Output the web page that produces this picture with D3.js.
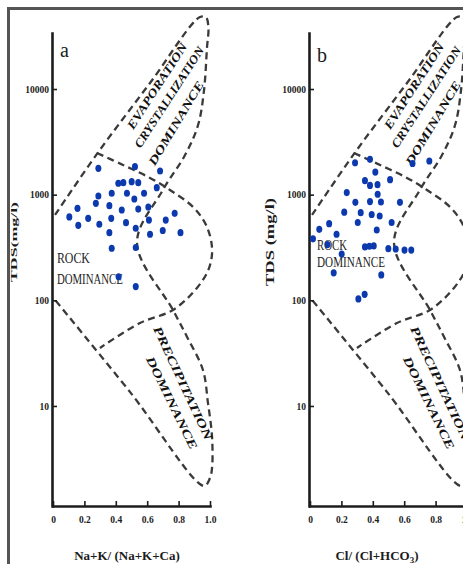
<!DOCTYPE html>
<html lang="en">
<head>
<meta charset="utf-8">
<title>Gibbs diagrams</title>
<script src="https://cdn.jsdelivr.net/npm/d3@7"></script>
<style>
  body { margin: 0; background: #fff; }
  svg text { font-family: "Liberation Serif", "DejaVu Serif", serif; fill: #1c1c1c; }
  .tick text { font-weight: bold; font-size: 9.5px; }
  .boundary { fill: none; stroke: #3a3a3a; stroke-width: 2.3; stroke-dasharray: 7,4.5; }
  .region { font-weight: bold; font-style: italic; font-size: 12px; fill: #111; }
</style>
</head>
<body>
<svg id="chart" width="463" height="564"></svg>
<script>
  // panel a : Na+K/(Na+K+Ca) against TDS
  const cationRatio = [0.289, 0.522, 0.682, 0.416, 0.448, 0.501, 0.543, 0.661, 0.289, 0.374,
                       0.471, 0.580, 0.518, 0.273, 0.359, 0.607, 0.156, 0.438, 0.543, 0.104,
                       0.224, 0.371, 0.611, 0.718, 0.775, 0.161, 0.295, 0.465, 0.527, 0.359,
                       0.618, 0.699, 0.812, 0.374, 0.527, 0.418, 0.527];
  const cationTDS = [1774, 1841, 1675, 1282, 1298, 1328, 1298, 1164, 971, 1031,
                     1031, 1031, 910, 828, 787, 764, 743, 716, 731, 615,
                     597, 597, 575, 575, 666, 513, 525, 543, 481, 437,
                     422, 458, 437, 311, 316, 167, 135];

  // panel b : Cl/(Cl+HCO3) against TDS
  const anionRatio = [0.287, 0.382, 0.653, 0.760, 0.416, 0.350, 0.510, 0.382, 0.430, 0.234,
                      0.431, 0.289, 0.382, 0.452, 0.573, 0.218, 0.323, 0.393, 0.444, 0.304,
                      0.520, 0.122, 0.425, 0.059, 0.169, 0.019, 0.111, 0.202, 0.350, 0.378,
                      0.406, 0.499, 0.546, 0.602, 0.645, 0.151, 0.454, 0.308, 0.348];
  const anionTDS = [2005, 2160, 1972, 2083, 1636, 1355, 1386, 1222, 1242, 1047,
                    1009, 847, 861, 852, 847, 683, 675, 649, 628, 545,
                    545, 531, 463, 470, 422, 382, 337, 274, 320, 325,
                    327, 308, 306, 299, 299, 182, 174, 103, 114];

  // Gibbs boundary: evaporation lobe, inner edge, precipitation lobe
  const outerRatio = [0.013, 0.280, 0.618, 0.936, 0.975, 0.990, 0.981, 0.962, 0.924, 0.841,
                      0.700, 0.535, 0.764, 0.854, 0.955, 0.987, 1.013, 1.013, 1.000, 0.962,
                      0.490, 0.013];
  const outerTDS = [643, 2430, 11400, 48000, 47500, 37800, 24900, 9770, 4560, 2370,
                    1107, 349, 81, 45, 21.9, 10.7, 5.1, 2.59, 2.08, 1.75,
                    13.6, 101];
  // rock dominance bulge
  const rockRatio = [0.280, 0.446, 0.618, 0.745, 0.892, 0.975, 1.013, 0.994, 0.917, 0.764, 0.554, 0.299];
  const rockTDS = [2480, 1910, 1440, 1107, 764, 516, 313, 202, 131, 81, 61, 35.4];

  const xTicks = [0, 0.2, 0.4, 0.6, 0.8, 1.0];
  const yTicks = [10, 100, 1000, 10000];

  const svg = d3.select("#chart");

  // frame round the figure (right and bottom edges are cut off)
  svg.append("rect")
    .attr("x", 8.5).attr("y", 8.5)
    .attr("width", 520).attr("height", 620)
    .attr("fill", "none")
    .attr("stroke", "#555")
    .attr("stroke-width", 3);

  function drawPanel(p) {
    const x = d3.scaleLinear().domain([0, 1]).range([p.left, p.left + 157]);
    const y = d3.scaleLog().domain([1.13, 33900]).range([506, 33]);
    const g = svg.append("g");

    const line = d3.line()
      .x(function(d) { return x(d[0]); })
      .y(function(d) { return y(d[1]); })
      .curve(d3.curveCatmullRom.alpha(0.5));

    g.append("path")
      .attr("class", "boundary")
      .attr("d", line(d3.zip(outerRatio, outerTDS)));
    g.append("path")
      .attr("class", "boundary")
      .attr("d", line(d3.zip(rockRatio, rockTDS)));

    // axes, ticks pointing inwards
    const yAxis = d3.axisLeft(y)
      .tickValues(yTicks)
      .tickFormat(d3.format("d"))
      .tickSizeInner(-5).tickSizeOuter(0).tickPadding(3);
    const xAxis = d3.axisBottom(x)
      .tickValues(xTicks)
      .tickFormat(function(d) { return d === 0 ? "0" : d.toFixed(1); })
      .tickSizeInner(-5).tickSizeOuter(0).tickPadding(10);

    const ya = g.append("g").attr("transform", "translate(" + (p.left - 1) + ",0)").call(yAxis);
    const xa = g.append("g").attr("transform", "translate(0,506)").call(xAxis);
    [ya, xa].forEach(function(a) {
      a.select(".domain").attr("stroke", "#1c1c1c").attr("stroke-width", 2.6).attr("stroke-linecap", "square");
      a.selectAll(".tick line").attr("stroke", "#1c1c1c").attr("stroke-width", 1.6);
      a.selectAll(".tick text").attr("fill", "#1c1c1c");
    });

    // region names
    function region(txt, rx, rt, angle, len) {
      g.append("text")
        .attr("class", "region")
        .attr("text-anchor", "middle")
        .attr("dy", "0.35em")
        .attr("textLength", len)
        .attr("lengthAdjust", "spacingAndGlyphs")
        .attr("transform", "translate(" + x(rx) + "," + y(rt) + ") rotate(" + angle + ")")
        .text(txt);
    }
    region("EVAPORATION", 0.662, 10670, -57, 100);
    region("CRYSTALLIZATION", 0.739, 8400, -57, 118);
    region("DOMINANCE", 0.783, 4760, -59, 96);
    region("PRECIPITATION", 0.828, 16.5, 65, 124);
    region("DOMINANCE", 0.758, 10.7, 64, 102);

    g.append("text")
      .attr("x", x(p.rockX)).attr("y", y(p.rockTDS[0]))
      .attr("font-size", 14).attr("fill", "#111")
      .attr("textLength", p.rockLen[0]).attr("lengthAdjust", "spacingAndGlyphs")
      .text("ROCK");
    g.append("text")
      .attr("x", x(p.rockX)).attr("y", y(p.rockTDS[1]))
      .attr("font-size", 14).attr("fill", "#111")
      .attr("textLength", p.rockLen[1]).attr("lengthAdjust", "spacingAndGlyphs")
      .text("DOMINANCE");

    // samples
    g.selectAll(".dot")
      .data(d3.zip(p.ratio, p.tds))
      .enter()
      .append("ellipse")
      .attr("class", "dot")
      .attr("cx", function(d) { return x(d[0]); })
      .attr("cy", function(d) { return y(d[1]); })
      .attr("rx", 3)
      .attr("ry", 3.6)
      .attr("fill", "#0c3aae");

    // panel letter
    g.append("text")
      .attr("x", p.left + 7).attr("y", p.letterY)
      .attr("font-size", 20)
      .text(p.letter);

    // axis titles
    g.append("text")
      .attr("transform", "translate(" + (p.left - 36) + ",242) rotate(-90)")
      .attr("text-anchor", "middle")
      .attr("font-weight", "bold")
      .attr("font-size", p.yTitleSize)
      .attr("textLength", p.yTitleLen).attr("lengthAdjust", "spacingAndGlyphs")
      .text(p.yTitle);

    const xt = g.append("text")
      .attr("x", p.left + p.xTitleMid).attr("y", 560)
      .attr("text-anchor", "middle")
      .attr("font-weight", "bold")
      .attr("font-size", 13);
    p.xTitle.forEach(function(part) {
      const t = xt.append("tspan").text(part[0]);
      if (part[1]) t.attr("font-size", 9).attr("baseline-shift", "-3");
    });
  }

  drawPanel({
    left: 53, letter: "a", letterY: 57,
    ratio: cationRatio, tds: cationTDS,
    rockX: 0.025, rockTDS: [225, 143], rockLen: [33, 66],
    yTitle: "TDS(mg/l)", yTitleSize: 9, yTitleLen: 80,
    xTitle: [["Na+K/ (Na+K+Ca)"]], xTitleMid: 74
  });
  drawPanel({
    left: 310, letter: "b", letterY: 62,
    ratio: anionRatio, tds: anionTDS,
    rockX: 0.045, rockTDS: [299, 207], rockLen: [30, 68],
    yTitle: "TDS (mg/l)", yTitleSize: 11.5, yTitleLen: 88,
    xTitle: [["Cl/ (Cl+HCO"], ["3", true], [")"]], xTitleMid: 67
  });
</script>
</body>
</html>
